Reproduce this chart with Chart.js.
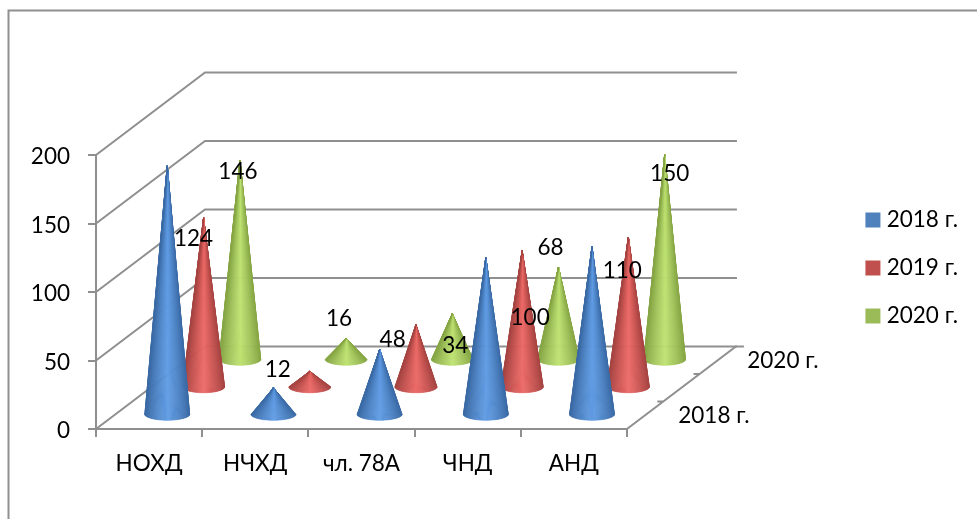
<!DOCTYPE html>
<html>
<head>
<meta charset="utf-8">
<title>3D cone chart</title>
<script src="https://cdn.jsdelivr.net/npm/chart.js@4/dist/chart.umd.min.js"></script>
<style>
    html, body { margin: 0; padding: 0; background: #fff; }
    canvas { display: block; }
</style>
</head>
<body>
<canvas id="chart" width="977" height="519"></canvas>
<script>
// Chart data
const categories = ['НОХД', 'НЧХД', 'чл. 78А', 'ЧНД', 'АНД'];
const seriesNames = ['2018 г.', '2019 г.', '2020 г.'];
const values2018 = [182, 20, 48, 115, 123];
const values2019 = [124, 12, 46, 100, 110];
const values2020 = [146, 16, 34, 68, 150];
const tickValues = [0, 50, 100, 150, 200];

// Look of the fake 3D box
const depthX = 109;
const depthY = 82.5;
const gridColor = '#8f8f8f';
const fontFamily = 'Lato, "Open Sans", "Noto Sans", sans-serif';
const fontSize = 22.5;

// Colours: flat legend colour, then cone shading from the rim to the middle
const colors2018 = ['#4f81bd', '#3a6aa5', '#4f86c8', '#609ce4'];
const colors2019 = ['#c0504d', '#a54442', '#cc5653', '#ec6a68'];
const colors2020 = ['#9bbb59', '#86a544', '#a4c65e', '#bfe272'];
const allColors = [colors2018, colors2019, colors2020];

// Base half width of the cones, front row to back row
const coneWidths = [22.4, 21, 20.8];
const coneFlat = 6;
const coneStrips = 60;

// Where each data label sits relative to the cone tip, null = no label
const labelShift2018 = [null, null, [13, -10], null, null];
const labelShift2019 = [[-10, 21], [-32, -2], null, [8, 67], [-6, 34]];
const labelShift2020 = [[-2, 12], [-7, -20], [3, 32], [-8, -19], [5, 19]];
const allShifts = [labelShift2018, labelShift2019, labelShift2020];

function depthOffset(index) {
    const step = index + 0.5;
    return { x: step * depthX / seriesNames.length, y: step * depthY / seriesNames.length };
}

function coneTip(chart, datasetIndex, valueIndex) {
    const bar = chart.getDatasetMeta(datasetIndex).data[valueIndex];
    const off = depthOffset(datasetIndex);
    return { x: bar.x + off.x, y: bar.y - off.y, baseY: bar.base - off.y };
}

function hexToRgb(hex) {
    return [1, 3, 5].map(pos => parseInt(hex.substr(pos, 2), 16));
}

// u is 0 at the left rim of the cone, 1 at the right rim
function shadeAt(u, colors) {
    const t = 1 - Math.abs(u * 2 - 1);
    const low = t < 0.5 ? colors[1] : colors[2];
    const high = t < 0.5 ? colors[2] : colors[3];
    const f = t < 0.5 ? t * 2 : t * 2 - 1;
    const a = hexToRgb(low);
    const b = hexToRgb(high);
    return 'rgb(' + a.map((c, i) => Math.round(c + (b[i] - c) * f)).join(',') + ')';
}

// Cone built from thin triangles, so the shading narrows towards the tip
function drawCone(ctx, tip, rx, colors) {
    ctx.save();
    ctx.lineWidth = 0.6;
    ctx.lineJoin = 'round';
    for (let k = 0; k < coneStrips; k++) {
        const t1 = Math.PI * k / coneStrips;
        const t2 = Math.PI * (k + 1) / coneStrips;
        const color = shadeAt((1 + Math.cos((t1 + t2) / 2)) / 2, colors);
        ctx.beginPath();
        ctx.moveTo(tip.x, tip.y);
        ctx.lineTo(tip.x + rx * Math.cos(t1), tip.baseY + coneFlat * Math.sin(t1));
        ctx.lineTo(tip.x + rx * Math.cos(t2), tip.baseY + coneFlat * Math.sin(t2));
        ctx.closePath();
        ctx.fillStyle = color;
        ctx.strokeStyle = color;
        ctx.fill();
        ctx.stroke();
    }
    ctx.restore();
}

// Draws walls, floor, cones and their labels around the normal scales
const conePlugin = {
    id: 'cones',
    afterLayout(chart) {
        // tick numbers sit a little under the middle of the tick in the original
        chart.scales.y.getLabelItems().forEach(item => {
            item.options.translation[1] += 2;
        });
    },
    beforeDatasetsDraw(chart) {
        const { ctx, chartArea, scales } = chart;
        const lineRight = chartArea.right + depthX;

        ctx.save();
        ctx.strokeStyle = gridColor;
        ctx.lineWidth = 2;

        // frame of the picture, open at the right and the bottom
        ctx.beginPath();
        ctx.moveTo(8.5, chart.height);
        ctx.lineTo(8.5, 10.5);
        ctx.lineTo(chart.width, 10.5);
        ctx.stroke();

        // gridlines run back along the side wall, then across the back wall
        tickValues.forEach(value => {
            const y = scales.y.getPixelForValue(value);
            ctx.beginPath();
            ctx.moveTo(chartArea.left, y);
            ctx.lineTo(chartArea.left + depthX, y - depthY);
            ctx.lineTo(lineRight + 1, y - depthY);
            ctx.stroke();
        });

        // right edge of the floor with the depth axis ticks
        ctx.beginPath();
        ctx.moveTo(chartArea.right, chartArea.bottom);
        ctx.lineTo(lineRight, chartArea.bottom - depthY);
        ctx.lineTo(lineRight + 8, chartArea.bottom - depthY);
        seriesNames.forEach((name, i) => {
            if (i === 0) return;
            const x = chartArea.right + i * depthX / seriesNames.length;
            const y = chartArea.bottom - i * depthY / seriesNames.length;
            ctx.moveTo(x - 6, y);
            ctx.lineTo(x, y);
        });
        ctx.stroke();

        // depth axis labels, the middle one does not fit in the original
        ctx.fillStyle = '#000';
        ctx.font = fontSize + 'px ' + fontFamily;
        ctx.textAlign = 'center';
        ctx.textBaseline = 'middle';
        ctx.fillText(seriesNames[0], chartArea.right + 87, chartArea.bottom - 13);
        ctx.fillText(seriesNames[2], chartArea.right + 156, chartArea.bottom - 68);
        ctx.restore();
    },
    beforeDatasetDraw(chart, args) {
        const index = args.index;
        chart.getDatasetMeta(index).data.forEach((bar, i) => {
            drawCone(chart.ctx, coneTip(chart, index, i), coneWidths[index], allColors[index]);
        });
        return false;
    },
    afterDatasetsDraw(chart) {
        const { ctx } = chart;
        ctx.save();
        ctx.fillStyle = '#000';
        ctx.font = fontSize + 'px ' + fontFamily;
        ctx.textAlign = 'center';
        ctx.textBaseline = 'middle';
        chart.data.datasets.forEach((dataset, index) => {
            dataset.data.forEach((value, i) => {
                const shift = allShifts[index][i];
                if (!shift) return;
                const tip = coneTip(chart, index, i);
                ctx.fillText(String(value), tip.x + shift[0], tip.y + shift[1]);
            });
        });
        ctx.restore();
    }
};

function buildDataset(label, data, colors) {
    return {
        label: label,
        data: data,
        backgroundColor: colors[0],
        borderColor: colors[0],
        borderWidth: 10,
        grouped: false
    };
}

Chart.defaults.font.family = fontFamily;
Chart.defaults.font.size = fontSize;
Chart.defaults.color = '#000';

new Chart(document.getElementById('chart'), {
    type: 'bar',
    data: {
        labels: categories,
        datasets: [
            buildDataset(seriesNames[0], values2018, colors2018),
            buildDataset(seriesNames[1], values2019, colors2019),
            buildDataset(seriesNames[2], values2020, colors2020)
        ]
    },
    plugins: [conePlugin],
    options: {
        responsive: false,
        animation: false,
        layout: { padding: { top: 17, right: 9 } },
        plugins: {
            tooltip: { enabled: false },
            legend: {
                position: 'right',
                labels: { boxWidth: 5, boxHeight: 5, padding: 25.5 }
            }
        },
        scales: {
            x: {
                position: 'bottom',
                grid: { drawOnChartArea: false, color: gridColor, lineWidth: 2, tickLength: 8, offset: true },
                border: { color: gridColor, width: 2 },
                ticks: { padding: 13, maxRotation: 0, autoSkip: false },
                afterFit: scale => { scale.height = 90; }
            },
            y: {
                position: 'left',
                min: 0,
                max: 200,
                grid: { drawOnChartArea: false, color: gridColor, lineWidth: 2, tickLength: 8 },
                border: { color: gridColor, width: 2 },
                ticks: { stepSize: 50, padding: 18 },
                afterFit: scale => { scale.width = 96; }
            },
            // empty axes, they only keep room above and beside the plot
            xTop: {
                axis: 'x',
                type: 'category',
                position: 'top',
                labels: [''],
                grid: { display: false },
                border: { display: false },
                ticks: { display: false },
                afterFit: scale => { scale.height = 138; }
            },
            yRight: {
                axis: 'y',
                type: 'linear',
                position: 'right',
                grid: { display: false },
                border: { display: false },
                ticks: { display: false },
                afterFit: scale => { scale.width = 218; }
            }
        }
    }
});
</script>
</body>
</html>
